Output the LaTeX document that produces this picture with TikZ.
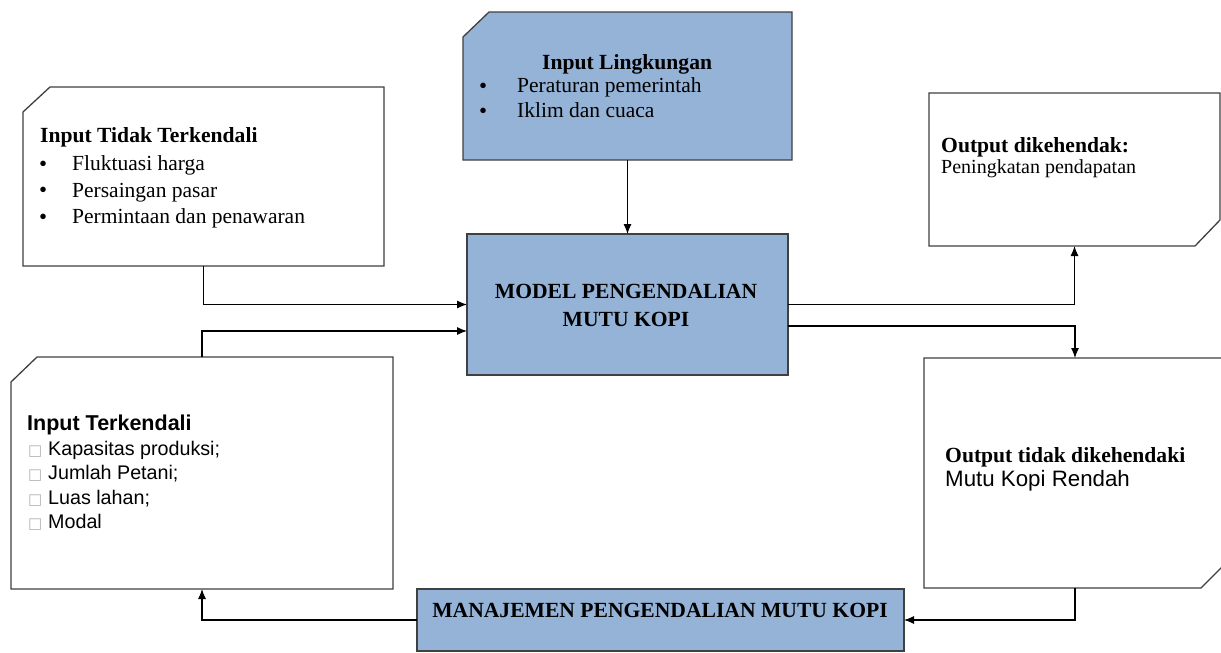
\documentclass[tikz,border=0pt]{standalone}
\usepackage{fontspec}
\setmainfont{Liberation Serif}
\newfontfamily\arialf{Liberation Sans}
\newfontfamily\dejavu{DejaVu Sans}
\usetikzlibrary{arrows.meta,calc}
\definecolor{boxblue}{RGB}{149,179,215}
\definecolor{edgec}{RGB}{64,64,64}
\newcommand{\mybul}{\raisebox{-0.6pt}{\fontsize{23}{26}\selectfont•}}
\newcommand{\mysq}{{\dejavu\fontsize{15}{15}\selectfont\color{gray!60}□}}
\begin{document}
\begin{tikzpicture}[x=1pt,y=-1pt,
  frame/.style={draw=edgec,line width=1.3pt},
  hold/.style={inner sep=0pt,outer sep=0pt,draw=none},
  txt/.style={anchor=base west,inner sep=0pt,font=\fontsize{21.5}{26}\selectfont},
  bld/.style={anchor=base west,inner sep=0pt,font=\fontsize{21.6}{26}\selectfont\bfseries},
  ctr/.style={anchor=base,inner sep=0pt,font=\fontsize{21.6}{26}\selectfont\bfseries},
  arr/.style={draw=black,line width=1.1pt,-{Latex[length=10pt,width=8pt]}}]
\useasboundingbox (0,0) rectangle (1221,653);
\fill[white] (0,0) rectangle (1221,653);

% holder nodes
\node[hold,minimum width=361pt,minimum height=179pt] (itt) at (203.5,176.5) {};
\node[hold,minimum width=329pt,minimum height=148pt] (il) at (627.5,86) {};
\node[hold,minimum width=321pt,minimum height=141pt] (mk) at (627.5,304.5) {};
\node[hold,minimum width=291pt,minimum height=153pt] (od) at (1074.5,169.5) {};
\node[hold,minimum width=382pt,minimum height=232pt] (it) at (202,473) {};
\node[hold,minimum width=302pt,minimum height=230pt] (ot) at (1075,473) {};
\node[hold,minimum width=487pt,minimum height=62pt] (mj) at (660.5,620) {};

% outlines
\draw[frame] ($(itt.north west)+(0,25)$) -- ($(itt.north west)+(27,0)$) -- (itt.north east) -- (itt.south east) -- (itt.south west) -- cycle;
\draw[frame,fill=boxblue] ($(il.north west)+(0,25)$) -- ($(il.north west)+(26,0)$) -- (il.north east) -- (il.south east) -- (il.south west) -- cycle;
\draw[frame,fill=boxblue] (mk.north west) rectangle (mk.south east);
\draw[frame] (od.north west) -- (od.north east) -- ($(od.south east)+(0,-26)$) -- ($(od.south east)+(-25,0)$) -- (od.south west) -- cycle;
\draw[frame] ($(it.north west)+(0,25)$) -- ($(it.north west)+(26,0)$) -- (it.north east) -- (it.south east) -- (it.south west) -- cycle;
\draw[frame] (ot.north west) -- (ot.north east) -- ($(ot.south east)+(0,-25)$) -- ($(ot.south east)+(-25,0)$) -- (ot.south west) -- cycle;
\draw[frame,fill=boxblue] (mj.north west) rectangle (mj.south east);

% texts: Input Tidak Terkendali
\node[bld] (itt-t) at (40,142) {Input Tidak Terkendali};
\node[txt] (itt-1) at (39,170.5) {\makebox[33pt][l]{\mybul}Fluktuasi harga};
\node[txt] (itt-2) at (39,197) {\makebox[33pt][l]{\mybul}Persaingan pasar};
\node[txt] (itt-3) at (39,223.5) {\makebox[33pt][l]{\mybul}Permintaan dan penawaran};

% Input Lingkungan
\node[bld] (il-t) at (542,69) {Input Lingkungan};
\node[txt] (il-1) at (479,92.5) {\makebox[38pt][l]{\mybul}Peraturan pemerintah};
\node[txt] (il-2) at (479,117.5) {\makebox[38pt][l]{\mybul}Iklim dan cuaca};

% Model
\node[ctr] (mk-1) at (626,298) {MODEL PENGENDALIAN};
\node[ctr] (mk-2) at (626,326) {MUTU KOPI};

% Output dikehendak
\node[bld] (od-t) at (941,152.5) {Output dikehendak:};
\node[anchor=base west,inner sep=0pt,font=\fontsize{20}{24}\selectfont] (od-1) at (941,173) {Peningkatan pendapatan};

% Input Terkendali
\node[anchor=base west,inner sep=0pt,font=\arialf\fontsize{21.5}{26}\selectfont\bfseries] (it-t) at (27,430) {Input Terkendali};
\begin{scope}[every node/.style={anchor=base west,inner sep=0pt,font=\arialf\fontsize{19.7}{24}\selectfont}]
\node (it-1) at (28,455) {\makebox[20pt][l]{\mysq}Kapasitas produksi;};
\node (it-2) at (28,479.5) {\makebox[20pt][l]{\mysq}Jumlah Petani;};
\node (it-3) at (28,504) {\makebox[20pt][l]{\mysq}Luas lahan;};
\node (it-4) at (28,528.5) {\makebox[20pt][l]{\mysq}Modal};
\end{scope}

% Output tidak dikehendaki
\node[bld] (ot-t) at (945,462.5) {Output tidak dikehendaki};
\node[anchor=base west,inner sep=0pt,font=\arialf\fontsize{22.3}{26}\selectfont] (ot-1) at (945,486) {Mutu Kopi Rendah};

% Manajemen
\node[ctr] (mj-t) at (660,617.5) {MANAJEMEN PENGENDALIAN MUTU KOPI};

% connectors
\coordinate (c331) at (0,331);
\coordinate (c326) at (0,326);
\draw[arr] (il.south) -- (mk.north);
\draw[arr] (itt.south) |- (mk.west);
\draw[arr] (it.north) |- (mk.west |- c331);
\draw[arr] (mk.east) -| (od.south);
\draw[arr] (mk.east |- c326) -| (ot.north);
\draw[arr] (ot.south) |- (mj.east);
\draw[arr] (mj.west) -| (it.south);
\end{tikzpicture}
\end{document}
